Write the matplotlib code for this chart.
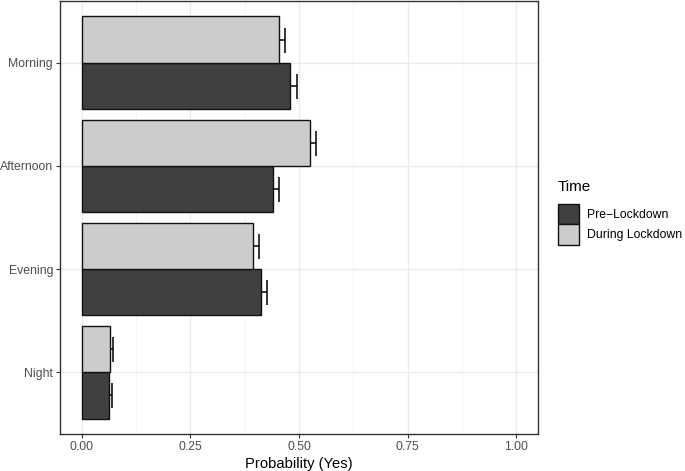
import numpy as np
import matplotlib.pyplot as plt
from matplotlib.patches import Patch

plt.rcParams['font.family'] = ['Liberation Sans', 'DejaVu Sans']

categories = ['Morning', 'Afternoon', 'Evening', 'Night']
pre_lockdown = [0.480, 0.441, 0.412, 0.063]
pre_se = [0.015, 0.014, 0.014, 0.006]
during_lockdown = [0.454, 0.525, 0.394, 0.064]
during_se = [0.013, 0.015, 0.015, 0.008]
x_ticks = [0.0, 0.25, 0.5, 0.75, 1.0]
x_labels = ['0.00', '0.25', '0.50', '0.75', '1.00']

dark = '#404040'
light = '#cccccc'
text_grey = '#4d4d4d'

fig = plt.figure(figsize=(6.85, 4.71), dpi=100)
ax = fig.add_axes([60 / 685, 37 / 471, 478 / 685, 433 / 471])

# categories from top to bottom
y = np.arange(len(categories))[::-1] + 1.0
h = 0.45

ax.errorbar(pre_lockdown, y - h / 2, xerr=pre_se, fmt='none', ecolor='black',
            elinewidth=1.1, capsize=9, capthick=1.1, zorder=2)
ax.errorbar(during_lockdown, y + h / 2, xerr=during_se, fmt='none', ecolor='black',
            elinewidth=1.1, capsize=9, capthick=1.1, zorder=2)
ax.barh(y - h / 2, pre_lockdown, height=h, color=dark, edgecolor='#111111',
        linewidth=1.0, zorder=3)
ax.barh(y + h / 2, during_lockdown, height=h, color=light, edgecolor='#111111',
        linewidth=1.0, zorder=3)

ax.set_xlim(-0.05, 1.05)
ax.set_ylim(0.4, 4.6)
ax.set_xticks(x_ticks)
ax.set_xticklabels(x_labels)
ax.set_xticks([0.125, 0.375, 0.625, 0.875], minor=True)
ax.set_yticks(y)
ax.set_yticklabels(categories)

ax.grid(True, which='major', color='#ebebeb', linewidth=1.0, zorder=0)
ax.grid(True, which='minor', axis='x', color='#f3f3f3', linewidth=0.6, zorder=0)
ax.set_axisbelow(True)
ax.tick_params(which='major', length=3, color='#333333', width=0.8,
               labelsize=8.8, labelcolor=text_grey, pad=2)
ax.tick_params(which='minor', length=0)
for s in ax.spines.values():
    s.set_color('#333333')
    s.set_linewidth(1.0)

ax.set_xlabel('Probability (Yes)', fontsize=10.6, labelpad=3)

handles = [Patch(facecolor=dark, edgecolor='#111111', linewidth=1.0, label='Pre\u2212Lockdown'),
           Patch(facecolor=light, edgecolor='#111111', linewidth=1.0, label='During Lockdown')]
leg = fig.legend(handles=handles, title='Time', loc='upper left',
                 bbox_to_anchor=(558 / 685, 1 - 180 / 471), frameon=False,
                 fontsize=8.8, title_fontsize=11, handlelength=1.75, handleheight=2.2,
                 handletextpad=0.6, labelspacing=0.0, borderaxespad=0, borderpad=0)
leg._legend_box.align = 'left'
leg._legend_box.sep = 7

fig.savefig('out.png', dpi=100)
